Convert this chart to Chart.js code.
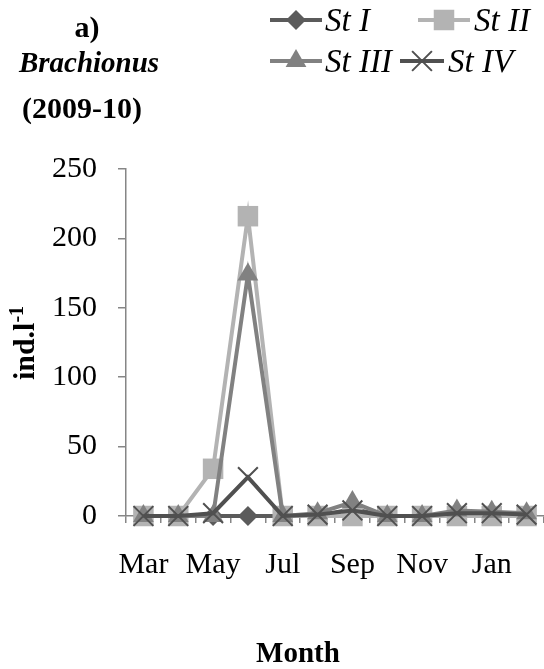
<!DOCTYPE html>
<html lang="en">
<head>
<meta charset="UTF-8">
<title>Brachionus (2009-10)</title>
<script src="https://cdn.jsdelivr.net/npm/chart.js@4.4.1/dist/chart.umd.min.js"></script>
<style>
  html, body { margin: 0; padding: 0; background: #fff; }
  #wrap { position: relative; width: 544px; height: 669px; }
</style>
</head>
<body>
<div id="wrap"><canvas id="chart" width="544" height="669"></canvas></div>
<script>
// monthly counts per station, Mar 2009 - Feb 2010
const months = ['Mar', 'Apr', 'May', 'Jun', 'Jul', 'Aug', 'Sep', 'Oct', 'Nov', 'Dec', 'Jan', 'Feb'];
const stI   = [0, 0, 0, 0, 0, 0, 5, 0, 0, 2, 2, 1];
const stII  = [0, 0, 34, 216, 0, 0, 0, 0, 0, 0, 0, 0];
const stIII = [0, 0, 0, 174, 0, 2, 10, 0, 0, 4, 3, 2];
const stIV  = [0, 0, 2, 28, 0, 1, 4, 0, 0, 2, 2, 1];
const yTicks = [0, 50, 100, 150, 200, 250];
const seriesNames = ['St I', 'St II', 'St III', 'St IV'];

const SERIF = "'Liberation Serif', 'Times New Roman', serif";
const AXIS = '#868686';

const styles = [
    { color: '#5b5b5b', point: 'rectRot',  radius: 10 },
    { color: '#b3b3b3', point: 'rect',     radius: 14.5 },
    { color: '#818181', point: 'triangle', radius: 12 },
    { color: '#505050', point: 'crossRot', radius: 14 }
];

// small marker painter for the hand-drawn legend
function drawMarker(ctx, s, x, y) {
    const r = s.radius;
    ctx.save();
    ctx.fillStyle = s.color;
    ctx.strokeStyle = s.color;
    ctx.beginPath();
    if (s.point === 'rectRot') {
        ctx.moveTo(x, y - r); ctx.lineTo(x + r, y); ctx.lineTo(x, y + r); ctx.lineTo(x - r, y);
        ctx.closePath(); ctx.fill();
    } else if (s.point === 'rect') {
        const h = r * Math.SQRT1_2;
        ctx.fillRect(x - h, y - h, 2 * h, 2 * h);
    } else if (s.point === 'triangle') {
        const w = r * Math.sqrt(3) / 2;
        ctx.moveTo(x, y - r); ctx.lineTo(x + w, y + r / 2); ctx.lineTo(x - w, y + r / 2);
        ctx.closePath(); ctx.fill();
    } else {
        const h = r * Math.SQRT1_2;
        ctx.lineWidth = 2;
        ctx.moveTo(x - h, y - h); ctx.lineTo(x + h, y + h);
        ctx.moveTo(x + h, y - h); ctx.lineTo(x - h, y + h);
        ctx.stroke();
    }
    ctx.restore();
}

const textPlugin = {
    id: 'textPlugin',
    afterDraw(chart) {
        const ctx = chart.ctx;
        ctx.save();
        ctx.fillStyle = '#000';
        ctx.textAlign = 'center';
        ctx.textBaseline = 'alphabetic';

        // panel heading
        ctx.font = 'bold 30px ' + SERIF;
        ctx.fillText('a)', 87, 37);
        ctx.font = 'italic bold 29px ' + SERIF;
        ctx.fillText('Brachionus', 89, 72);
        ctx.font = 'bold 30px ' + SERIF;
        ctx.fillText('(2009-10)', 82, 118);

        // x axis title
        ctx.font = 'bold 29px ' + SERIF;
        ctx.fillText('Month', 298, 662);

        // y axis title with superscript
        ctx.save();
        ctx.translate(34, 343);
        ctx.rotate(-Math.PI / 2);
        const main = 'ind.l';
        ctx.font = 'bold 30px ' + SERIF;
        const wMain = ctx.measureText(main).width;
        ctx.font = 'bold 20px ' + SERIF;
        const wSup = ctx.measureText('-1').width;
        const start = -(wMain + wSup) / 2;
        ctx.textAlign = 'left';
        ctx.font = 'bold 30px ' + SERIF;
        ctx.fillText(main, start, 0);
        ctx.font = 'bold 20px ' + SERIF;
        ctx.fillText('-1', start + wMain, -11);
        ctx.restore();

        // legend: line + marker + italic label
        const items = [
            { x0: 270, x1: 322, y: 20, tx: 325, ty: 31 },
            { x0: 418, x1: 470, y: 20, tx: 474, ty: 31 },
            { x0: 270, x1: 322, y: 61, tx: 325, ty: 72 },
            { x0: 400, x1: 444, y: 61, tx: 448, ty: 72 }
        ];
        ctx.font = 'italic 33px ' + SERIF;
        ctx.textAlign = 'left';
        items.forEach((it, i) => {
            const s = styles[i];
            ctx.strokeStyle = s.color;
            ctx.lineWidth = 4;
            ctx.beginPath();
            ctx.moveTo(it.x0, it.y);
            ctx.lineTo(it.x1, it.y);
            ctx.stroke();
            drawMarker(ctx, s, (it.x0 + it.x1) / 2, it.y);
            ctx.fillStyle = '#000';
            ctx.fillText(seriesNames[i], it.tx, it.ty);
        });
        ctx.restore();
    }
};

const seriesData = [stI, stII, stIII, stIV];
const datasets = seriesData.map((d, i) => ({
    label: seriesNames[i],
    data: d,
    borderColor: styles[i].color,
    backgroundColor: styles[i].color,
    borderWidth: 4,
    pointStyle: styles[i].point,
    pointRadius: styles[i].radius,
    pointBorderWidth: styles[i].point === 'crossRot' ? 2 : 0,
    pointBackgroundColor: styles[i].color,
    pointBorderColor: styles[i].color,
    tension: 0,
    clip: false,
    order: 4 - i
}));

new Chart(document.getElementById('chart'), {
    type: 'line',
    data: { labels: months, datasets: datasets },
    options: {
        responsive: false,
        animation: false,
        devicePixelRatio: 1,
        layout: { autoPadding: false, padding: { top: 169, left: 0, right: 0, bottom: 0 } },
        plugins: { legend: { display: false }, tooltip: { enabled: false } },
        scales: {
            x: {
                offset: true,
                afterFit(scale) {
                    scale.height = 669 - 516;
                    scale.paddingLeft = 0;
                    scale.paddingRight = 0;
                },
                border: { color: AXIS, width: 1.5 },
                grid: { offset: true, drawOnChartArea: false, drawTicks: true, tickLength: 7, color: AXIS, lineWidth: 1.5 },
                ticks: {
                    autoSkip: false,
                    maxRotation: 0,
                    padding: 24,
                    color: '#000',
                    font: { family: SERIF, size: 30 },
                    callback: (v, i) => (i % 2 === 0 ? months[i] : '')
                }
            },
            y: {
                min: 0,
                max: 250,
                afterFit(scale) { scale.width = 126; },
                afterBuildTicks(scale) { scale.ticks = yTicks.map(v => ({ value: v })); },
                border: { color: AXIS, width: 1.5 },
                grid: { drawOnChartArea: false, drawTicks: true, tickLength: 8, color: AXIS, lineWidth: 1.5 },
                ticks: {
                    padding: 21,
                    color: '#000',
                    font: { family: SERIF, size: 30 }
                }
            }
        }
    },
    plugins: [textPlugin]
});
</script>
</body>
</html>
